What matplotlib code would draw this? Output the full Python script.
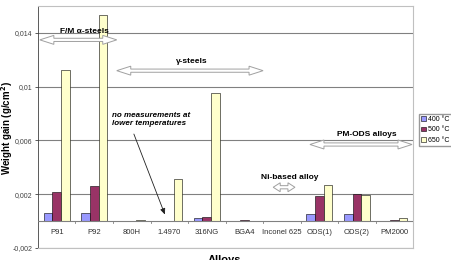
import numpy as np
import matplotlib
matplotlib.use("Agg")
import matplotlib.pyplot as plt
from matplotlib.patches import Polygon
from matplotlib.ticker import FuncFormatter

alloys = ["P91", "P92", "800H", "1.4970", "316NG", "BGA4", "Inconel 625",
          "ODS(1)", "ODS(2)", "PM2000"]
series_names = ["400 °C", "500 °C", "650 °C"]
gain_400 = [0.0006, 0.0006, 0.0, 0.0, 0.0002, 0.00002, 0.0, 0.00055, 0.00055, 0.00003]
gain_500 = [0.00215, 0.0026, 0.00003, 0.0, 0.0003, 0.00005, 0.00003, 0.00185, 0.002, 0.00008]
gain_650 = [0.01126, 0.01533, 0.0001, 0.0031, 0.00955, 0.0, 0.00003, 0.0027, 0.00198, 0.0002]
colors = ["#9999FF", "#993366", "#FFFFCC"]
y_ticks = [-0.002, 0.002, 0.006, 0.01, 0.014]

plt.rcParams['font.family'] = ['Liberation Sans', 'DejaVu Sans']

fig = plt.figure(figsize=(4.52, 2.60), dpi=100)
ax = fig.add_axes([0.084, 0.046, 0.83, 0.931])

x = np.arange(len(alloys))
w = 0.23
for i, (vals, c, name) in enumerate(zip([gain_400, gain_500, gain_650], colors, series_names)):
    ax.bar(x + (i - 1) * w, vals, w, color=c, edgecolor="black", linewidth=0.4,
           label=name, zorder=3)

ax.set_xlim(-0.5, len(alloys) - 0.5)
ax.set_ylim(-0.002, 0.016)
ax.set_yticks(y_ticks)
ax.yaxis.set_major_formatter(FuncFormatter(lambda v, p: ("%g" % v).replace(".", ",")))
ax.grid(axis="y", color="#808080", linewidth=0.8, zorder=0)
ax.axhline(0, color="#808080", linewidth=0.8, zorder=4)
ax.tick_params(axis="y", labelsize=5, length=2, width=0.6, colors="#404040", pad=2)
ax.set_xticks(x)
ax.set_xticklabels(alloys, fontsize=5.5, color="#303030")
ax.tick_params(axis="x", length=0, pad=-14)
for s in ["top", "right", "bottom"]:
    ax.spines[s].set_color("#c0c0c0")
ax.spines["left"].set_color("#404040")
ax.spines["left"].set_linewidth(0.6)

# vertical category separators on the zero line
for k in range(1, len(alloys)):
    ax.plot([k - 0.5, k - 0.5], [0, -0.00012], color="#808080", lw=0.6, zorder=4)

fig.text(7 / 452, 1 - 128 / 260, "Weight gain (g/cm$^\\mathbf{2}$)", rotation=90,
         ha="center", va="center", fontsize=7, fontweight="bold")
fig.text(0.497, 0.018, "Alloys", ha="center", va="top", fontsize=8, fontweight="bold")

# px -> data helpers (1 category = 37.5 px, 0.004 = 54 px)
dy = 0.004 / 54.0
dx = 1 / 37.5


def double_arrow(x0, x1, y, shaft=1.6, head=4.5, hlen=14, ec="#a0a0a0"):
    hl = hlen * dx
    pts = [(x0, y), (x0 + hl, y + head * dy), (x0 + hl, y + shaft * dy),
           (x1 - hl, y + shaft * dy), (x1 - hl, y + head * dy), (x1, y),
           (x1 - hl, y - head * dy), (x1 - hl, y - shaft * dy),
           (x0 + hl, y - shaft * dy), (x0 + hl, y - head * dy)]
    ax.add_patch(Polygon(pts, closed=True, fc="white", ec=ec, lw=0.7, zorder=5))


tkw = dict(fontsize=6, fontweight="bold", ha="center", va="center", zorder=6)
ax.text(0.75, 0.01407, "F/M α-steels", **tkw)
double_arrow(-0.45, 1.6, 0.01348)
ax.text(3.6, 0.01185, "γ-steels", **tkw)
double_arrow(1.6, 5.5, 0.01119)
ax.text(6.22, 0.00326, "Ni-based alloy", **tkw)
double_arrow(5.77, 6.35, 0.00252, hlen=7)
ax.text(8.27, 0.00644, "PM-ODS alloys", **tkw)
double_arrow(6.75, 9.47, 0.0057)

ax.text(1.47, 0.00756, "no measurements at\nlower temperatures", fontsize=5.8,
        fontweight="bold", style="italic", ha="left", va="center", linespacing=1.1, zorder=6)
ax.annotate("", xy=(2.91, 0.0003), xytext=(2.03, 0.00667),
            arrowprops=dict(arrowstyle="-|>,head_length=0.35,head_width=0.15",
                            color="#202020", lw=0.6), zorder=6)

leg = fig.legend(loc="upper left", bbox_to_anchor=(0.926, 0.562), fontsize=5,
                 frameon=True, fancybox=False, edgecolor="#808080", handlelength=0.7,
                 handleheight=0.7, handletextpad=0.3, borderpad=0.35, labelspacing=0.45,
                 borderaxespad=0)
for h in leg.legend_handles:
    h.set_linewidth(0.4)

fig.savefig("out.png", dpi=100)
